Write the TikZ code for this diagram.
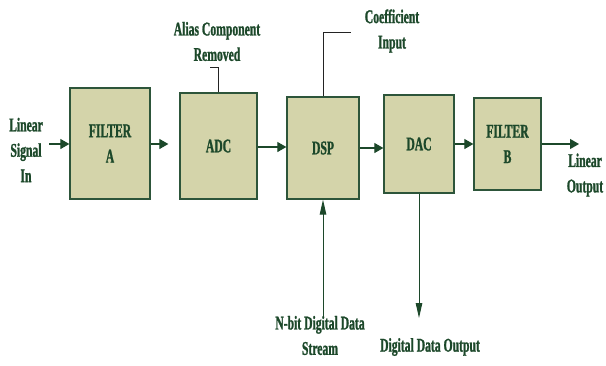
\documentclass[tikz,border=0pt]{standalone}
\usepackage{fontspec}
\setmainfont{Liberation Serif}[FakeStretch=0.6,BoldFeatures={FakeStretch=0.6,FakeBold=1.2}]
\usetikzlibrary{arrows.meta}
\definecolor{dkgreen}{RGB}{28,72,42}
\definecolor{boxfill}{RGB}{212,212,170}
\definecolor{boxline}{RGB}{45,85,58}
\definecolor{leader}{RGB}{35,35,35}
\tikzset{
  blk/.style={draw=boxline, line width=1.3bp, fill=boxfill, inner sep=0pt, align=center,
              text=dkgreen, font=\fontsize{19.5}{25.5}\selectfont\bfseries},
  lbl/.style={inner sep=0pt, align=center, text=dkgreen, font=\fontsize{19.5}{25.5}\selectfont\bfseries},
  arr/.style={draw=dkgreen, line width=1.2bp, -{Triangle[length=9bp,width=10bp]}},
  varr/.style={draw=dkgreen, line width=1bp, -{Triangle[length=15bp,width=6.5bp]}},
  lead/.style={draw=leader, line width=1bp}
}
\begin{document}
\begin{tikzpicture}[x=1bp,y=-1bp]
\useasboundingbox (0,0) rectangle (606,365);
% boxes
\node[blk, minimum width=80bp, minimum height=111bp] (fa) at (110,143.5) {FILTER\\A};
\node[blk, minimum width=77bp, minimum height=106bp] (adc) at (218.5,146) {ADC};
\node[blk, minimum width=72bp, minimum height=102bp] (dsp) at (323,148) {DSP};
\node[blk, minimum width=70bp, minimum height=98bp] (dac) at (419,144) {DAC};
\node[blk, minimum width=67bp, minimum height=92bp] (fb) at (507.5,144) {FILTER\\B};
% labels
\node[lbl] (lin) at (26,150) {Linear\\Signal\\In};
\node[lbl] (alias) at (217,41.5) {Alias Component\\Removed};
\node[lbl] (coef) at (392,31) {Coefficient\\Input};
\node[lbl] (nbit) at (320,335.5) {N-bit Digital Data\\Stream};
\node[lbl] (ddo) at (430,347) {Digital Data Output};
\node[lbl] (lout) at (585,175) {Linear\\Output};
% coordinates
\coordinate (inS) at (49,144);
\coordinate (outE) at (579,144);
\coordinate (aliasE) at (210,67);
\coordinate (coefE) at (351,32);
\coordinate (nbitS) at (323,317);
\coordinate (ddoE) at (419,318);
% connectors
\draw[arr] (inS) -- (fa.west |- inS);
\draw[arr, shorten >=11bp] (fa.east |- 0,144) -- (adc.west |- 0,144);
\draw[arr] (adc.east |- 0,147) -- (dsp.west |- 0,147);
\draw[arr] (dsp.east |- 0,148) -- (dac.west |- 0,148);
\draw[arr] (dac.east |- 0,144) -- (fb.west |- 0,144);
\draw[arr] (fb.east |- outE) -- (outE);
\draw[lead] (adc.north) |- (aliasE);
\draw[lead] (dsp.north) |- (coefE);
\draw[varr] (nbitS) -- (dsp.south);
\draw[varr] (dac.south) -- (ddoE);
\end{tikzpicture}
\end{document}
